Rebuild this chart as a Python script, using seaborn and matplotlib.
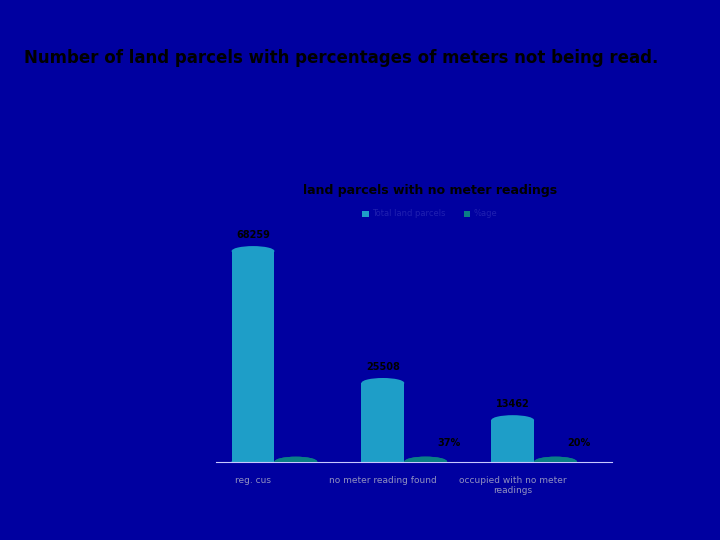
import matplotlib
matplotlib.use("Agg")
import matplotlib.pyplot as plt
from matplotlib.patches import Ellipse
import seaborn as sns
import pandas as pd

categories = ["reg. cus", "no meter reading found", "occupied with no meter\nreadings"]
total_parcels = [68259, 25508, 13462]
pct_age = [0, 37, 20]
pct_labels = ["", "37%", "20%"]
series_names = ["Total land parcels", "%age"]

df = pd.DataFrame({
    "cat": categories * 2,
    "series": [series_names[0]] * 3 + [series_names[1]] * 3,
    "val": total_parcels + pct_age,
})

bg = "#0000a0"
fig = plt.figure(figsize=(7.2, 5.4), dpi=100, facecolor=bg)
ax = fig.add_axes([0.30, 0.145, 0.55, 0.40], facecolor=bg)
colors = {"Total land parcels": "#1e9ec8", "%age": "#0a7f86"}
sns.barplot(data=df, x="cat", y="val", hue="series", palette=colors, ax=ax,
            width=0.66, legend=False, saturation=1)
ax.set_ylim(0, 70000)
ax.set_xlim(-0.45, 2.6)
for sp in ["top", "right", "left"]:
    ax.spines[sp].set_visible(False)
ax.spines["bottom"].set_color("#c8c8ff")
ax.set_yticks([])
ax.set_ylabel(""); ax.set_xlabel("")

# cylinder caps
ypx = 70000 / (0.40 * 540)
for p in ax.patches:
    w = p.get_width(); x0 = p.get_x(); h = p.get_height()
    if h <= 0 and p.get_facecolor()[0] > 0.05:
        pass
    fc = p.get_facecolor()
    ax.add_patch(Ellipse((x0 + w / 2, h), w, 10 * ypx, facecolor=fc, edgecolor="none", zorder=3))
    ax.add_patch(Ellipse((x0 + w / 2, 0), w, 10 * ypx, facecolor=fc, edgecolor="none", zorder=2))

bars_total = ax.patches[:3]
bars_pct = ax.patches[3:6]
for b, v in zip(bars_total, total_parcels):
    ax.text(b.get_x() + b.get_width() / 2, v + 3500, str(v), ha="center", va="bottom",
            fontsize=7, fontweight="bold", color="black")
for b, lab in zip(bars_pct, pct_labels):
    if lab:
        ax.text(b.get_x() + b.get_width() * 1.05, 4500, lab, ha="center", va="bottom",
                fontsize=7, fontweight="bold", color="black")
ax.set_xticks([b.get_x() + b.get_width() / 2 for b in bars_total])
ax.set_xticklabels(categories, fontsize=6.5, color="#9090c0")
ax.tick_params(axis="x", length=0, pad=10)

fig.text(0.033, 0.893, "Number of land parcels with percentages of meters not being read.",
         fontsize=12, fontweight="bold", color="black", ha="left", va="center")
fig.text(0.597, 0.647, "land parcels with no meter readings", fontsize=9, fontweight="bold",
         color="black", ha="center", va="center")
fig.patches.append(plt.Rectangle((0.503, 0.598), 0.009, 0.012, transform=fig.transFigure,
                                 facecolor=colors["Total land parcels"], figure=fig))
fig.text(0.517, 0.604, series_names[0], fontsize=6, color="#2020b0", va="center")
fig.patches.append(plt.Rectangle((0.644, 0.598), 0.009, 0.012, transform=fig.transFigure,
                                 facecolor=colors["%age"], figure=fig))
fig.text(0.657, 0.604, series_names[1], fontsize=6, color="#2020b0", va="center")

fig.savefig("out.png", dpi=100, facecolor=bg)
